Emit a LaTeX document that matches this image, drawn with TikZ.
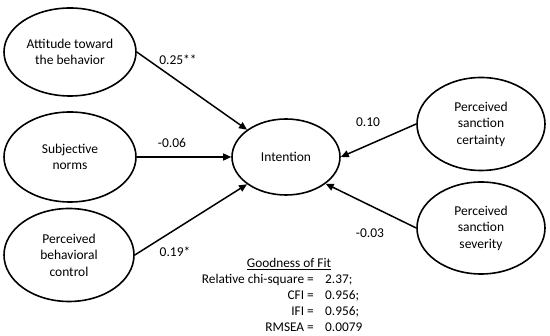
\documentclass[tikz,border=0pt]{standalone}
\usepackage{fontspec}
\setmainfont{Carlito}
\usetikzlibrary{shapes.geometric,arrows.meta}
\begin{document}
\begin{tikzpicture}[x=1pt,y=-1pt,
  lat/.style={draw,ellipse,line width=1.6pt,inner sep=0pt,align=center,font=\fontsize{13.5}{16.5}\selectfont},
  arr/.style={line width=1.5pt,-{Triangle[length=8pt,width=7pt]}},
  coef/.style={font=\fontsize{13.5}{16}\selectfont,inner sep=0pt},
  fitstyle/.style={font=\fontsize{13.3}{16}\selectfont,inner sep=0pt}]
\useasboundingbox (0,0) rectangle (550,336);
\node[lat,minimum width=132pt,minimum height=88pt] (att) at (70,52) {Attitude toward\\the behavior};
\node[lat,minimum width=132pt,minimum height=90pt] (sub) at (70,157) {Subjective\\norms};
\node[lat,minimum width=130pt,minimum height=93pt] (pbc) at (69,255) {Perceived\\behavioral\\control};
\node[lat,minimum width=108pt,minimum height=76pt] (int) at (286,157) {Intention};
\node[lat,minimum width=128pt,minimum height=93pt] (cer) at (481,124) {Perceived\\sanction\\certainty};
\node[lat,minimum width=128pt,minimum height=92pt] (sev) at (481,228) {Perceived\\sanction\\severity};
\draw[arr] (att.east) -- (int.145);
\draw[arr] (sub.east) -- (int.west);
\draw[arr] (pbc.east) -- (int.215);
\draw[arr] (cer.west) -- (int.east);
\draw[arr] (sev.west) -- (int.326);
\node[coef] (l1) at (178,60) {0.25**};
\node[coef] (l2) at (172,143) {-0.06};
\node[coef] (l3) at (175,252) {0.19*};
\node[coef] (l4) at (368,122) {0.10};
\node[coef] (l5) at (370,233) {-0.03};
\node[fitstyle,anchor=base] (gof) at (289,267.5) {\underline{Goodness of Fit}};
\node[fitstyle,anchor=base east] (k1) at (314,283.5) {Relative chi-square =};
\node[fitstyle,anchor=base west] (v1) at (325,283.5) {2.37;};
\node[fitstyle,anchor=base east] (k2) at (314,299.5) {CFI =};
\node[fitstyle,anchor=base west] (v2) at (325,299.5) {0.956;};
\node[fitstyle,anchor=base east] (k3) at (314,315.5) {IFI =};
\node[fitstyle,anchor=base west] (v3) at (325,315.5) {0.956;};
\node[fitstyle,anchor=base east] (k4) at (314,331.5) {RMSEA =};
\node[fitstyle,anchor=base west] (v4) at (325,331.5) {0.0079};
\end{tikzpicture}
\end{document}
